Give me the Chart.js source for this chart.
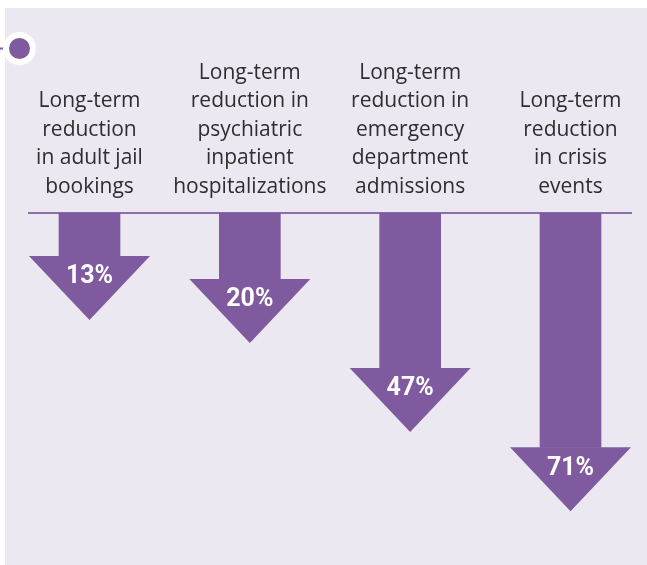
<!DOCTYPE html>
<html>
<head>
<meta charset="utf-8">
<script src="https://cdn.jsdelivr.net/npm/chart.js@4.4.1/dist/chart.umd.min.js"></script>
<style>
    html, body { margin: 0; padding: 0; background: #ffffff; }
    canvas { display: block; }
</style>
</head>
<body>
<canvas id="chart" width="647" height="565"></canvas>
<script>
(function () {
    "use strict";

    // Data
    const categories = [
        ["Long-term", "reduction", "in adult jail", "bookings"],
        ["Long-term", "reduction in", "psychiatric", "inpatient", "hospitalizations"],
        ["Long-term", "reduction in", "emergency", "department", "admissions"],
        ["Long-term", "reduction", "in crisis", "events"],
    ];
    const reductions = [13, 20, 47, 71];
    const valueLabels = ["13%", "20%", "47%", "71%"];

    const purple = "#7f5a9e";
    const panelColor = "#ebe8f2";

    // Panel, baseline, marker and arrow heads
    const arrowDecor = {
        id: "arrowDecor",
        beforeDraw(chart) {
            const c = chart.ctx;
            c.save();
            c.fillStyle = "#ffffff";
            c.fillRect(0, 0, chart.width, chart.height);
            c.fillStyle = panelColor;
            c.fillRect(5, 8, chart.width - 5, chart.height - 8);
            c.restore();
        },
        beforeDatasetsDraw(chart) {
            const c = chart.ctx;
            const y0 = chart.scales.y.getPixelForValue(0);
            c.save();
            c.strokeStyle = "#8d6dab";
            c.lineWidth = 2;
            c.beginPath();
            c.moveTo(28, y0);
            c.lineTo(632, y0);
            c.stroke();
            c.restore();
        },
        afterDatasetsDraw(chart) {
            const c = chart.ctx;
            const meta = chart.getDatasetMeta(0);
            c.save();
            meta.data.forEach((bar, i) => {
                const x = bar.x;
                const y = bar.y;
                c.fillStyle = purple;
                c.beginPath();
                c.moveTo(x - 60.5, y);
                c.lineTo(x + 60.5, y);
                c.lineTo(x, y + 64);
                c.closePath();
                c.fill();

                c.fillStyle = "#ffffff";
                c.font = "bold 25px Roboto";
                c.textAlign = "center";
                c.textBaseline = "middle";
                c.fillText(valueLabels[i], x, y + 21);
            });
            c.restore();
        },
        afterDraw(chart) {
            const c = chart.ctx;
            c.save();
            c.strokeStyle = purple;
            c.lineWidth = 2;
            c.beginPath();
            c.moveTo(0, 48.5);
            c.lineTo(10, 48.5);
            c.stroke();
            c.fillStyle = "#ffffff";
            c.beginPath();
            c.arc(19.5, 48.5, 16.5, 0, Math.PI * 2);
            c.fill();
            c.fillStyle = purple;
            c.beginPath();
            c.arc(19.5, 48.5, 10.5, 0, Math.PI * 2);
            c.fill();
            c.restore();
        },
    };

    const ctx = document.getElementById("chart").getContext("2d");
    new Chart(ctx, {
        type: "bar",
        data: {
            labels: categories,
            datasets: [
                {
                    data: reductions,
                    backgroundColor: purple,
                    barThickness: 61,
                    borderWidth: 0,
                    clip: false,
                },
            ],
        },
        options: {
            responsive: false,
            animation: false,
            events: [],
            layout: {
                padding: { left: 89.5, right: 76.5, top: 0, bottom: 22 },
            },
            plugins: {
                legend: { display: false },
                tooltip: { enabled: false },
            },
            scales: {
                x: {
                    position: "top",
                    offset: false,
                    afterFit: (scale) => {
                        scale.height = 213;
                    },
                    ticks: {
                        autoSkip: false,
                        maxRotation: 0,
                        minRotation: 0,
                        padding: 12,
                        color: "#2e2e2e",
                        font: {
                            family: "'Open Sans'",
                            size: 21,
                            lineHeight: 1.357,
                        },
                    },
                    grid: { display: false, drawTicks: false },
                    border: { display: false },
                },
                y: {
                    display: false,
                    reverse: true,
                    min: 0,
                    max: 100,
                },
            },
        },
        plugins: [arrowDecor],
    });
})();
</script>
</body>
</html>
